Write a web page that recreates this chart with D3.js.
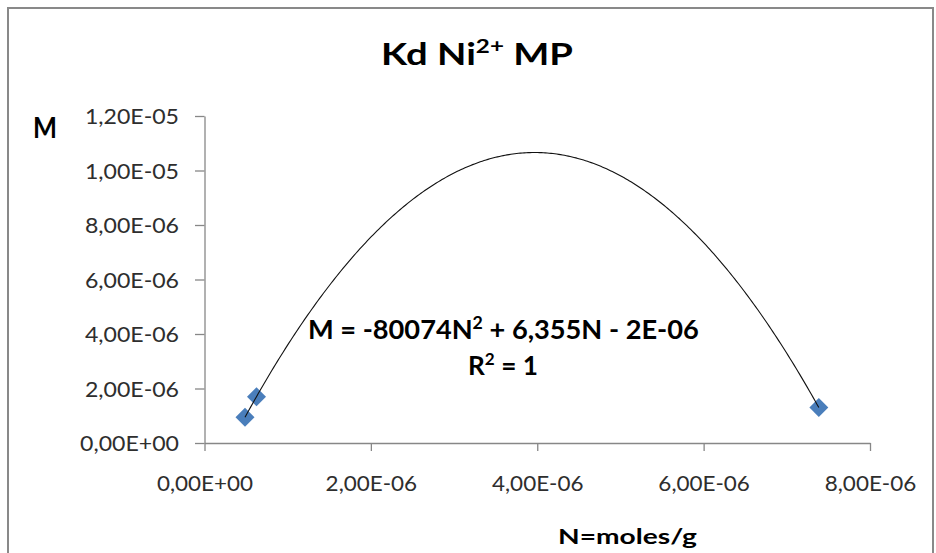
<!DOCTYPE html>
<html>
<head>
<meta charset="utf-8">
<script src="https://cdn.jsdelivr.net/npm/d3@7"></script>
<style>
  body { margin: 0; background: #fff; }
  svg text { font-family: Lato, "Noto Sans", sans-serif; }
</style>
</head>
<body>
<div id="container"></div>
<script>
/**
 * DATA
 * */
const nValues = [4.87e-7, 6.25e-7, 7.385e-6];   // N = moles/g
const mValues = [9.45e-7, 1.70e-6, 1.30e-6];    // M
const xTicks = [0, 2e-6, 4e-6, 6e-6, 8e-6];
const yTicks = [0, 2e-6, 4e-6, 6e-6, 8e-6, 1e-5, 1.2e-5];
const titleText = ["Kd Ni", "2+", " MP"];
const eqText = ["M = -80074N", "2", " + 6,355N - 2E-06"];
const r2Text = ["R", "2", " = 1"];

/**
 * CONSTANTS
 * */
const width = 936,
    height = 553,
    plot = { left: 204.5, right: 870, top: 116, bottom: 443 };

const svg = d3.select("#container")
    .append("svg")
    .attr("width", width)
    .attr("height", height)

// outer chart frame
svg.append("rect")
    .attr("x", 8)
    .attr("y", 8)
    .attr("width", 925)
    .attr("height", 560)
    .attr("fill", "#fff")
    .attr("stroke", "#898989")
    .attr("stroke-width", 2)

const xScale = d3.scaleLinear()
    .domain([0, 8e-6])
    .range([plot.left, plot.right])
const yScale = d3.scaleLinear()
    .domain([0, 1.2e-5])
    .range([plot.bottom, plot.top])

// Excel style "1,20E-05"
function sciComma(v) {
    if (Math.abs(v) < 1e-15) return "0,00E+00";
    const e = Math.floor(Math.log10(Math.abs(v)) + 1e-9);
    const m = v / Math.pow(10, e);
    return m.toFixed(2).replace(".", ",") + "E" + (e < 0 ? "-" : "+") + String(Math.abs(e)).padStart(2, "0");
}

const xAxis = d3.axisBottom(xScale)
    .tickValues(xTicks)
    .tickFormat(sciComma)
    .tickSize(8)
    .tickSizeOuter(0)
    .tickPadding(25)
const yAxis = d3.axisLeft(yScale)
    .tickValues(yTicks)
    .tickFormat(sciComma)
    .tickSize(9.5)
    .tickSizeOuter(0)
    .tickPadding(16)

svg.append("g")
    .attr("class", "x-axis")
    .attr("transform", `translate(0,${plot.bottom})`)
    .call(xAxis)
svg.append("g")
    .attr("class", "y-axis")
    .attr("transform", `translate(${plot.left},0)`)
    .call(yAxis)

svg.selectAll(".x-axis path, .x-axis line, .y-axis path, .y-axis line")
    .attr("stroke", "#878787")
    .attr("stroke-width", 1.3)
svg.selectAll(".x-axis text, .y-axis text")
    .attr("fill", "#2e2e2e")
    .style("font-size", "21px")

// the Excel font is a bit wider than Lato: stretch tick labels a little
svg.selectAll(".y-axis text")
    .attr("dy", "0.36em")
    .attr("x", 0)
    .attr("transform", "translate(-25.5,0) scale(1.1,1)")
svg.selectAll(".x-axis text")
    .attr("y", 0)
    .attr("transform", "translate(0,33) scale(1.07,1)")

/* points */
const points = nValues.map((n, i) => ({ n: n, m: mValues[i] }))

svg.selectAll("path.point")
    .data(points)
    .join("path")
    .attr("class", "point")
    .attr("d", d3.symbol(d3.symbolSquare, 180))
    .attr("transform", d => `translate(${xScale(d.n)},${yScale(d.m)}) rotate(45)`)
    .attr("fill", "#4a7ebb")

/* polynomial (order 2) trendline, least squares on the points */
function fitQuadratic(xs, ys) {
    // work in micro units to keep the numbers sane
    const u = xs.map(x => x * 1e6), v = ys.map(y => y * 1e6)
    const s = k => d3.sum(u, x => Math.pow(x, k))
    const t = k => d3.sum(u, (x, i) => Math.pow(x, k) * v[i])
    const A = [[s(4), s(3), s(2)], [s(3), s(2), s(1)], [s(2), s(1), u.length]]
    const b = [t(2), t(1), t(0)]
    for (let c = 0; c < 3; c++) {
        for (let r = c + 1; r < 3; r++) {
            const f = A[r][c] / A[c][c]
            for (let k = c; k < 3; k++) A[r][k] -= f * A[c][k]
            b[r] -= f * b[c]
        }
    }
    const coef = [0, 0, 0]
    for (let r = 2; r >= 0; r--) {
        let acc = b[r]
        for (let k = r + 1; k < 3; k++) acc -= A[r][k] * coef[k]
        coef[r] = acc / A[r][r]
    }
    return x => { const q = x * 1e6; return (coef[0] * q * q + coef[1] * q + coef[2]) / 1e6 }
}
const trend = fitQuadratic(nValues, mValues)
const [nMin, nMax] = d3.extent(nValues)
const trendPts = d3.range(0, 301).map(i => {
    const n = nMin + (nMax - nMin) * i / 300
    return [n, trend(n)]
})
const lineGen = d3.line()
    .x(d => xScale(d[0]))
    .y(d => yScale(d[1]))
svg.append("path")
    .attr("class", "trend")
    .attr("d", lineGen(trendPts))
    .attr("fill", "none")
    .attr("stroke", "#111")
    .attr("stroke-width", 1.1)

/* texts */
// text with a superscript in the middle, stretched to the width seen in the picture
function labelText(parts, x, y, size, supSize, weight, targetW) {
    const t = svg.append("text")
        .attr("x", 0)
        .attr("y", 0)
        .style("font-size", size + "px")
        .style("font-weight", weight)
        .attr("fill", "#000")
    t.append("tspan").text(parts[0])
    if (parts.length > 1) {
        t.append("tspan")
            .attr("dy", -0.4 * size)
            .style("font-size", supSize + "px")
            .text(parts[1])
        t.append("tspan")
            .attr("dy", 0.4 * size)
            .text(parts[2])
    }
    const w = t.node().getBBox().width
    const sx = targetW ? targetW / w : 1
    t.attr("transform", `translate(${x},${y}) scale(${sx},1)`)
    return t
}

labelText(titleText, 381, 64.5, 30, 19, "bold", 192)
labelText(eqText, 308, 339, 26, 17, "bold", 391)
labelText(r2Text, 468, 375, 26, 17, "bold", 70)
labelText(["M"], 33, 137.5, 29, 0, "bold", 24)
labelText(["N=moles/g"], 558, 544, 21, 0, "bold", 139)
</script>
</body>
</html>
